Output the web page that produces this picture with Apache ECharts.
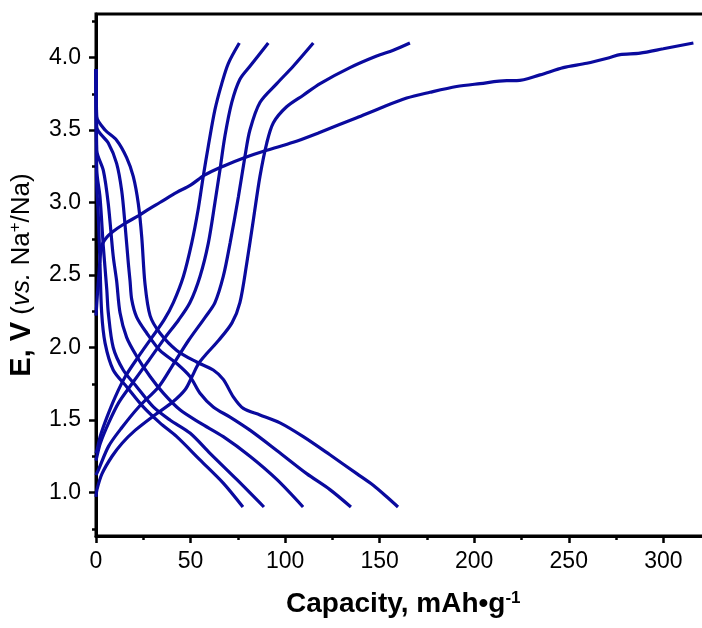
<!DOCTYPE html>
<html>
<head>
<meta charset="utf-8">
<script src="https://cdn.jsdelivr.net/npm/echarts@6/dist/echarts.min.js"></script>
<style>
html,body{margin:0;padding:0;background:#fff;}
#main{width:702px;height:628px;}
</style>
</head>
<body>
<div id="main"></div>
<script>
// capacity (mAh/g), potential (V) pairs
var charge1 = [[0,2.22],[0.4,2.30],[1.5,2.5],[3.0,2.70],[5.7,2.76],[9.0,2.80],[14.6,2.85],[22.6,2.91],[28.6,2.96],[33.8,3.0],[42.7,3.07],[50,3.12],[57.6,3.19],[67.3,3.25],[78.8,3.31],[90.3,3.36],[104.3,3.415],[117.6,3.48],[137.9,3.585],[150.2,3.65],[164.3,3.72],[176.6,3.76],[190.7,3.80],[203.1,3.82],[217.2,3.84],[222.5,3.84],[234.8,3.88],[247.1,3.93],[259.5,3.96],[271.8,4.00],[277.1,4.02],[287.7,4.03],[300,4.06],[315.9,4.10]];
var charge2 = [[0,0.97],[0.5,1.02],[3.2,1.13],[8.5,1.25],[13.8,1.34],[20.8,1.43],[29.6,1.52],[40.2,1.62],[47.2,1.71],[50.8,1.80],[54.3,1.89],[58.7,1.96],[64.9,2.05],[71.9,2.17],[76.1,2.31],[79.7,2.58],[83.2,2.88],[86.7,3.18],[90.3,3.41],[93.8,3.55],[100.8,3.66],[109.6,3.74],[118.5,3.82],[134.3,3.93],[148.4,4.01],[157.2,4.05],[166.0,4.10]];
var charge3 = [[0,1.12],[1.4,1.16],[6.7,1.32],[13.8,1.45],[22.6,1.59],[33.2,1.73],[40.2,1.87],[49.0,2.05],[57.8,2.21],[62.9,2.31],[67.3,2.49],[70.9,2.72],[75.3,3.04],[78.8,3.32],[81.4,3.50],[86.7,3.69],[95.6,3.82],[104.3,3.94],[114.9,4.10]];
var charge4 = [[0,1.22],[0.5,1.25],[2.3,1.34],[6.7,1.48],[12.0,1.62],[19.0,1.75],[27.9,1.91],[36.6,2.07],[43.7,2.19],[49.7,2.31],[55.0,2.49],[59.4,2.72],[62.9,3.0],[65.6,3.23],[68.2,3.46],[71.8,3.69],[76.1,3.85],[81.4,3.94],[91.1,4.10]];
var charge5 = [[0,1.27],[0.5,1.29],[2.3,1.39],[5.8,1.52],[10.2,1.66],[15.5,1.80],[22.6,1.94],[29.6,2.07],[36.0,2.19],[40.9,2.31],[46.2,2.49],[50.6,2.72],[54.0,2.95],[56.7,3.18],[59.4,3.39],[62.9,3.64],[66.5,3.82],[70.0,3.96],[75.8,4.10]];

var discharge1 = [[0,3.92],[0.2,3.7],[0.4,3.59],[4.8,3.50],[10.9,3.43],[16.2,3.31],[19.7,3.18],[22.4,2.99],[24.2,2.76],[25.9,2.44],[28.6,2.22],[33.8,2.10],[42.7,1.98],[53.2,1.90],[62.0,1.845],[67.3,1.78],[72.6,1.66],[77.9,1.58],[86.7,1.535],[97.3,1.48],[109.6,1.385],[123.7,1.26],[137.9,1.13],[146.6,1.05],[154.6,0.96],[159.7,0.90]];
var discharge2 = [[0,3.92],[0.2,3.7],[0.4,3.52],[6.5,3.41],[10.9,3.27],[13.6,3.08],[15.3,2.855],[17.1,2.58],[18.0,2.46],[18.9,2.33],[21.5,2.21],[26.8,2.10],[33.8,1.98],[42.7,1.89],[49.7,1.80],[55.0,1.685],[62.0,1.59],[70.9,1.52],[81.4,1.43],[95.6,1.29],[111.4,1.13],[123.7,1.02],[134.8,0.90]];
var discharge3 = [[0,3.92],[0.2,3.6],[0.4,3.36],[3.9,3.22],[6.5,2.99],[9.1,2.63],[10.9,2.46],[12.7,2.24],[16.2,2.07],[21.5,1.94],[28.6,1.80],[35.6,1.685],[44.4,1.57],[55.0,1.48],[67.3,1.385],[81.4,1.25],[95.6,1.09],[109.5,0.90]];
var discharge4 = [[0,3.92],[0.2,3.5],[0.4,3.22],[2.1,3.04],[3.9,2.69],[5.7,2.40],[6.5,2.24],[9.1,2.00],[14.4,1.845],[21.5,1.73],[30.3,1.59],[39.1,1.50],[49.7,1.41],[60.3,1.27],[74.4,1.09],[88.8,0.90]];
var discharge5 = [[0,3.92],[0.2,3.4],[0.3,3.15],[1.2,2.92],[2.1,2.58],[3.0,2.24],[4.8,2.03],[9.1,1.845],[16.2,1.73],[25.0,1.59],[33.8,1.48],[42.7,1.385],[55.0,1.225],[67.3,1.065],[77.7,0.90]];

var xTicks = [0,50,100,150,200,250,300];
var xMinorTicks = [25,75,125,175,225,275,325];
var yTicks = [1.0,1.5,2.0,2.5,3.0,3.5,4.0];
var yMinorTicks = [0.75,1.25,1.75,2.25,2.75,3.25,3.75,4.25];

var curves = [charge1, discharge1, charge2, discharge2, charge3, discharge3, charge4, discharge4, charge5, discharge5];
var lineColor = '#0a0a9e';
var font = 'Liberation Sans, Arial, sans-serif';

var myChart = echarts.init(document.getElementById('main'));

var series = [];
for (var i = 0; i < curves.length; i++) {
    series.push({
        type: 'line',
        data: curves[i],
        showSymbol: false,
        smooth: 0.3,
        lineStyle: {color: lineColor, width: 3.2},
        itemStyle: {color: lineColor}
    });
}

var option = {
    animation: false,
    backgroundColor: '#fff',
    grid: {
        left: 96, top: 14, width: 614.6, height: 522,
        show: true, borderColor: '#000', borderWidth: 3,
        containLabel: false, outerBoundsMode: 'none'
    },
    xAxis: [{
        type: 'value', min: 0, max: 325, position: 'bottom',
        axisLine: {show: true, lineStyle: {color: '#000', width: 3}},
        axisTick: {show: true, customValues: xTicks, length: 7, lineStyle: {color: '#000', width: 2.5}},
        axisLabel: {customValues: xTicks, margin: 14, color: '#000', fontSize: 23, fontFamily: font},
        splitLine: {show: false},
        name: '{b|Capacity, mAh•g}{sup|-1}',
        nameLocation: 'middle', nameGap: 54,
        nameTextStyle: {
            fontFamily: font, color: '#000',
            rich: {
                b: {fontSize: 28, fontWeight: 'bold', fontFamily: font, color: '#000'},
                sup: {fontSize: 17, fontWeight: 'bold', fontFamily: font, color: '#000', verticalAlign: 'top'}
            }
        }
    }, {
        type: 'value', min: 0, max: 325, position: 'bottom',
        axisLine: {show: false},
        axisTick: {show: true, customValues: xMinorTicks, length: 4, lineStyle: {color: '#000', width: 2.5}},
        axisLabel: {show: false},
        splitLine: {show: false}
    }],
    yAxis: [{
        type: 'value', min: 0.7, max: 4.3, position: 'left',
        axisLine: {show: true, lineStyle: {color: '#000', width: 3}},
        axisTick: {show: true, customValues: yTicks, length: 7, lineStyle: {color: '#000', width: 2.5}},
        axisLabel: {
            customValues: yTicks, margin: 15, color: '#000', fontSize: 23, fontFamily: font,
            formatter: function (v) { return v.toFixed(1); }
        },
        splitLine: {show: false},
        name: '{b|E, V}{n| (}{i|vs.}{n| Na}{sup|+}{n|/Na)}',
        nameLocation: 'middle', nameRotate: 90, nameGap: 60,
        nameTextStyle: {
            fontFamily: font, color: '#000',
            rich: {
                b: {fontSize: 29, fontWeight: 'bold', fontFamily: font, color: '#000'},
                n: {fontSize: 26, fontFamily: font, color: '#000'},
                i: {fontSize: 26, fontStyle: 'italic', fontFamily: font, color: '#000'},
                sup: {fontSize: 17, fontFamily: font, color: '#000', verticalAlign: 'top'}
            }
        }
    }, {
        type: 'value', min: 0.7, max: 4.3, position: 'left',
        axisLine: {show: false},
        axisTick: {show: true, customValues: yMinorTicks, length: 4, lineStyle: {color: '#000', width: 2.5}},
        axisLabel: {show: false},
        splitLine: {show: false}
    }],
    series: series
};
myChart.setOption(option);
</script>
</body>
</html>
